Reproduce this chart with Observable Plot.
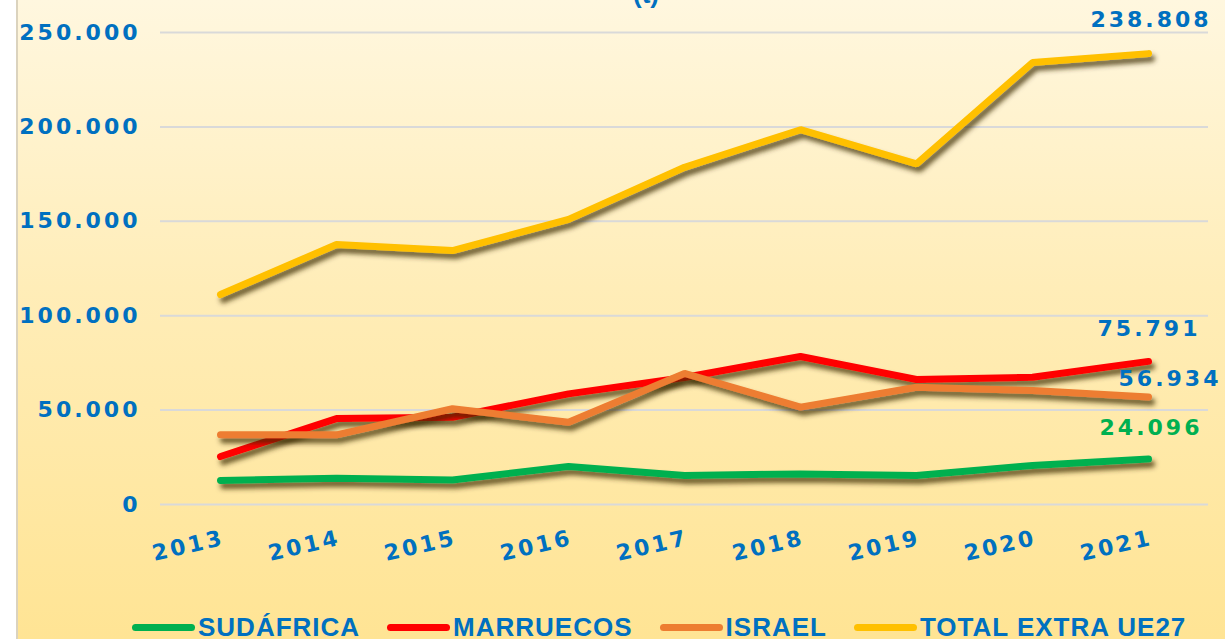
<!DOCTYPE html>
<html>
<head>
<meta charset="utf-8">
<script src="https://cdn.jsdelivr.net/npm/d3@7"></script>
<script src="https://cdn.jsdelivr.net/npm/@observablehq/plot@0.6"></script>
<style>
  html, body { margin: 0; padding: 0; width: 1225px; height: 639px; overflow: hidden; background: #ffffff; }
  #wrap { position: absolute; left: 0; top: 0; width: 1225px; height: 639px; overflow: hidden; }
  #bg { position: absolute; left: 16px; top: 0; right: 0; bottom: 0;
        background: linear-gradient(180deg, #FFF7DF 0%, #FFEDB8 45%, #FFE494 100%);
        border-left: 2px solid #DBD3BE; }
  #chart { position: absolute; left: 0; top: 0; }
  #title { position: absolute; top: -20px; left: 0; width: 1292px; text-align: center;
           font-family: "Liberation Sans", Arial, sans-serif; font-weight: bold; font-size: 26px;
           color: #0070C0; line-height: 29px; }
  #legend { position: absolute; left: 132px; top: 613px; height: 29px; display: flex; align-items: center;
            font-family: "Liberation Sans", Arial, sans-serif; font-weight: bold; font-size: 26px;
            letter-spacing: 1px; color: #0070C0; line-height: 29px; white-space: nowrap; }
  .item { display: flex; align-items: center; margin-right: 27px; }
  .sw { width: 63px; height: 7px; border-radius: 4px; margin-right: 3px; }
</style>
</head>
<body>
<div id="wrap">
  <div id="bg"></div>
  <div id="title">(t)</div>
  <div id="chart"></div>
  <div id="legend"></div>
</div>
<script>
// ---- Data ----
const years = ["2013", "2014", "2015", "2016", "2017", "2018", "2019", "2020", "2021"];
const seriesNames = ["SUDÁFRICA", "MARRUECOS", "ISRAEL", "TOTAL EXTRA UE27"];
const seriesColors = ["#00B050", "#FF0000", "#ED7D31", "#FFC000"];
const sudafrica = [12700, 13900, 13000, 20100, 15400, 16200, 15400, 20700, 24096];
const marruecos = [25400, 45500, 46200, 58600, 67300, 78400, 66200, 67400, 75791];
const israel    = [36900, 36900, 50700, 43600, 69400, 51600, 62100, 60400, 56934];
const totalExtraUE27 = [111200, 137700, 134500, 151000, 178600, 198500, 180400, 234100, 238808];
const yTicks = [0, 50000, 100000, 150000, 200000, 250000];

// ---- Build table ----
const seriesValues = [sudafrica, marruecos, israel, totalExtraUE27];
const rows = [];
seriesNames.forEach((name, i) => {
  years.forEach((yr, j) => rows.push({serie: name, year: yr, value: seriesValues[i][j]}));
});
const fmt = d => d3.format(",")(d).replace(/,/g, ".");
const lastOf = name => rows.filter(d => d.serie === name && d.year === years[years.length - 1]);

const font = "'DejaVu Sans', Verdana, sans-serif";
const blue = "#0070C0";

const lineMarks = seriesNames.map((name, i) =>
  Plot.line(rows.filter(d => d.serie === name), {x: "year", y: "value", stroke: seriesColors[i],
    strokeWidth: 7, strokeLinecap: "round", strokeLinejoin: "miter"}));

const chart = Plot.plot({
  width: 1225,
  height: 600,
  marginLeft: 160,
  marginRight: 17,
  marginTop: 32,
  marginBottom: 96,
  style: {background: "transparent", overflow: "visible", fontFamily: font, letterSpacing: "3px"},
  x: {type: "point", domain: years, padding: 0.5, axis: null},
  y: {domain: [0, 250000], axis: null},
  marks: [
    Plot.ruleY(yTicks, {stroke: "#D9D9D9", strokeWidth: 2}),
    Plot.text(yTicks, {y: d => d, text: fmt, frameAnchor: "left", textAnchor: "end", dx: -20,
      fill: blue, fontSize: 22, fontWeight: "bold"}),
    Plot.text(years, {x: d => d, text: d => d, frameAnchor: "bottom", textAnchor: "end", lineAnchor: "bottom",
      rotate: -13, dx: 5, dy: 40, fill: blue, fontSize: 22, fontWeight: "bold"}),
    ...lineMarks,
    Plot.text(lastOf(seriesNames[3]), {x: "year", y: "value", text: d => fmt(d.value), dx: 2.5, dy: -34,
      fill: blue, fontSize: 22, fontWeight: "bold"}),
    Plot.text(lastOf(seriesNames[1]), {x: "year", y: "value", text: d => fmt(d.value), dx: 0.5, dy: -32,
      fill: blue, fontSize: 22, fontWeight: "bold"}),
    Plot.text(lastOf(seriesNames[2]), {x: "year", y: "value", text: d => fmt(d.value), dx: 21.5, dy: -18.5,
      fill: blue, fontSize: 22, fontWeight: "bold"}),
    Plot.text(lastOf(seriesNames[0]), {x: "year", y: "value", text: d => fmt(d.value), dx: 2.5, dy: -31.5,
      fill: "#00B050", fontSize: 22, fontWeight: "bold"})
  ]
});

document.getElementById("chart").appendChild(chart);

// SVG drop-shadow filter for the series lines
const svgSel = d3.select(chart);
const defs = svgSel.insert("defs", ":first-child");
const filt = defs.append("filter").attr("id", "lineShadow").attr("filterUnits", "userSpaceOnUse")
  .attr("x", 0).attr("y", 0).attr("width", 1225).attr("height", 600);
filt.append("feGaussianBlur").attr("in", "SourceAlpha").attr("stdDeviation", 2.5).attr("result", "blur");
filt.append("feOffset").attr("in", "blur").attr("dx", 3).attr("dy", 5).attr("result", "off");
filt.append("feFlood").attr("flood-color", "#3a2a00").attr("flood-opacity", 0.75).attr("result", "col");
filt.append("feComposite").attr("in", "col").attr("in2", "off").attr("operator", "in").attr("result", "shadow");
const merge = filt.append("feMerge");
merge.append("feMergeNode").attr("in", "shadow");
merge.append("feMergeNode").attr("in", "SourceGraphic");
svgSel.selectAll('g[aria-label="line"]').attr("filter", "url(#lineShadow)");

// ---- Legend ----
const legend = d3.select("#legend");
seriesNames.forEach((name, i) => {
  const it = legend.append("div").attr("class", "item");
  it.append("div").attr("class", "sw").style("background", seriesColors[i]);
  it.append("span").text(name);
});
</script>
</body>
</html>
